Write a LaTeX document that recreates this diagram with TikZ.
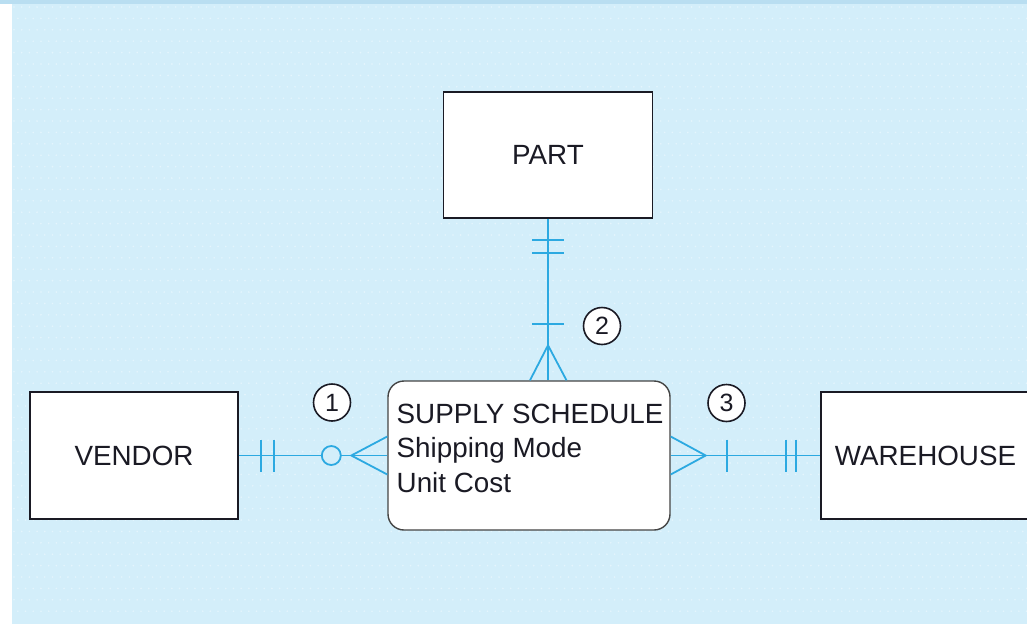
\documentclass[tikz,border=0pt]{standalone}
\usepackage{fontspec}
\setmainfont{Liberation Sans}
\usetikzlibrary{calc}
\definecolor{bgblue}{HTML}{D3EEFA}
\definecolor{topband}{HTML}{B9DEF1}
\definecolor{dotcol}{HTML}{E4F5FD}
\definecolor{relblue}{HTML}{2CA9E1}
\definecolor{inkdark}{HTML}{1A1A24}
\definecolor{edgegrey}{HTML}{444444}

\begin{document}
\begin{tikzpicture}[x=1pt,y=-1pt,
  entity/.style={draw=inkdark, line width=1.4pt, fill=white, inner sep=0pt,
    font=\fontsize{27.8}{32}\selectfont, text=inkdark},
  assoc/.style={draw=edgegrey, line width=1.4pt, fill=white, rounded corners=16pt,
    inner sep=0pt, minimum width=282pt, minimum height=149pt},
  sstext/.style={anchor=base west, inner sep=0pt, font=\fontsize{27.8}{32}\selectfont, text=inkdark},
  rel/.style={draw=relblue, line width=1.8pt},
  numtag/.style={circle, draw=inkdark, line width=1.6pt, fill=white, minimum size=37pt,
    inner sep=0pt, font=\fontsize{25}{28}\selectfont, text=inkdark}
]
\useasboundingbox (0,0) rectangle (1027,624);
\begin{scope}
\clip (0,0) rectangle (1027,624);
% page background with dotted blue panel
\fill[white] (0,0) rectangle (1027,624);
\fill[bgblue] (12,4) rectangle (1027,624);
\fill[topband] (0,0) rectangle (1027,3.5);
\foreach \r in {0,...,53} {
  \foreach \c in {0,...,132} {
    \fill[dotcol] ({14+\c*7.7+mod(\r,2)*3.85}, {7+\r*11.4}) circle (0.9);
  }
}

% entities
\node[entity, minimum width=209pt, minimum height=126pt] (part) at (548,155) {PART};
\node[entity, minimum width=208pt, minimum height=127pt] (vendor) at (134,455.5) {VENDOR};
\node[entity, minimum width=209pt, minimum height=127pt] (warehouse) at (925.5,455.5) {WAREHOUSE};

% associative entity
\node[assoc] (ss) at (529,455.5) {};
\node[sstext] (ssname) at (396.5,423) {SUPPLY SCHEDULE};
\node[sstext] (ssmode) at (396.5,457.5) {Shipping Mode};
\node[sstext] (sscost) at (396.5,492) {Unit Cost};

% PART -- SUPPLY SCHEDULE
\draw[rel] (part.south) -- (part.south |- ss.north);
\draw[rel] ($(part.south)+(-16,21)$) -- ++(32,0);
\draw[rel] ($(part.south)+(-16,34)$) -- ++(32,0);
\coordinate (pfoot) at ($(part.south |- ss.north)+(0,-35)$);
\draw[rel] ($(pfoot)+(-16,-21)$) -- ++(32,0);
\draw[rel] ($(pfoot)+(-18,35)$) -- (pfoot) -- ($(pfoot)+(18.5,35)$);

% VENDOR -- SUPPLY SCHEDULE
\draw[rel] (vendor.east) -- (ss.west);
\draw[rel] ($(vendor.east)+(22,-16)$) -- ++(0,32);
\draw[rel] ($(vendor.east)+(35.5,-16)$) -- ++(0,32);
\coordinate (vfoot) at ($(ss.west)+(-36,0)$);
\draw[rel, fill=bgblue] ($(ss.west)+(-56,0)$) circle (9.5);
\draw[rel] ($(ss.west)+(0,-19)$) -- (vfoot) -- ($(ss.west)+(0,19)$);

% SUPPLY SCHEDULE -- WAREHOUSE
\draw[rel] (ss.east) -- (warehouse.west);
\coordinate (wfoot) at ($(ss.east)+(35,0)$);
\draw[rel] ($(ss.east)+(0,-19)$) -- (wfoot) -- ($(ss.east)+(0,19)$);
\draw[rel] ($(ss.east)+(56,-16)$) -- ++(0,32);
\draw[rel] ($(warehouse.west)+(-34,-16)$) -- ++(0,32);
\draw[rel] ($(warehouse.west)+(-24,-16)$) -- ++(0,32);

% relationship numbers
\node[numtag] (n1) at (332,402.5) {1};
\node[numtag] (n2) at (602,326) {2};
\node[numtag] (n3) at (726.5,403) {3};
\end{scope}
\end{tikzpicture}
\end{document}
